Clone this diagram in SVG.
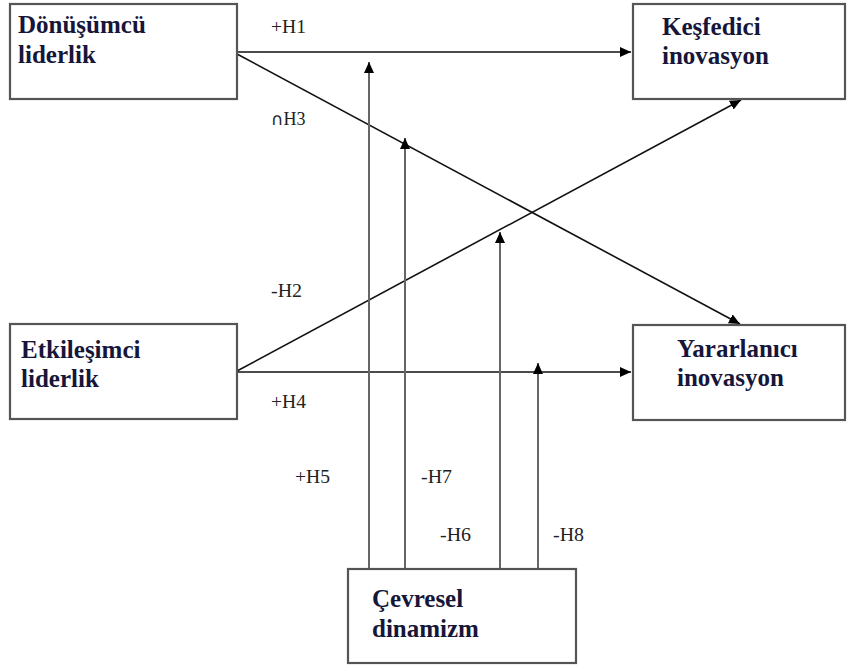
<svg xmlns="http://www.w3.org/2000/svg" width="849" height="668" viewBox="0 0 849 668">
  <style>
    .box { fill: #ffffff; stroke: #555555; stroke-width: 2.2; }
    .title { font-family: 'Liberation Serif', 'DejaVu Serif', serif; font-size: 25px; font-weight: bold; fill: #16163a; }
    .link { fill: none; stroke: #111111; stroke-width: 1.6; marker-end: url(#head); }
    .mod { fill: none; stroke: #666666; stroke-width: 2; marker-end: url(#head); }
    .lbl { font-family: 'Liberation Serif', 'DejaVu Serif', serif; font-size: 18px; fill: #222222; }
    .cap { font-family: 'DejaVu Sans', sans-serif; font-size: 17px; }
  </style>
  <defs>
    <marker id="head" markerUnits="userSpaceOnUse" markerWidth="12" markerHeight="11" refX="11" refY="5" orient="auto">
      <path d="M0,0 L11,5 L0,10 z" fill="#000000"/>
    </marker>
  </defs>

  <rect width="849" height="668" fill="#ffffff"/>

  <!-- connectors -->
  <g id="connectors">
    <line class="link" x1="237" y1="52" x2="631" y2="52"/>
    <line class="link" x1="237" y1="54" x2="740" y2="324"/>
    <line class="link" x1="237" y1="371" x2="741" y2="100"/>
    <line class="link" x1="237" y1="372" x2="631" y2="372"/>
    <line class="mod" x1="369" y1="569" x2="369" y2="62"/>
    <line class="mod" x1="405" y1="569" x2="405" y2="138"/>
    <line class="mod" x1="500" y1="569" x2="500" y2="232"/>
    <line class="mod" x1="538" y1="569" x2="538" y2="363"/>
  </g>

  <!-- hypothesis labels -->
  <g id="labels">
    <text class="lbl" x="271" y="33" textLength="35" lengthAdjust="spacingAndGlyphs">+H1</text>
    <text class="lbl" x="271" y="125"><tspan class="cap">∩</tspan>H3</text>
    <text class="lbl" x="271" y="297" textLength="31" lengthAdjust="spacingAndGlyphs">-H2</text>
    <text class="lbl" x="271" y="408" textLength="35" lengthAdjust="spacingAndGlyphs">+H4</text>
    <text class="lbl" x="295" y="483" textLength="35" lengthAdjust="spacingAndGlyphs">+H5</text>
    <text class="lbl" x="421" y="483" textLength="31" lengthAdjust="spacingAndGlyphs">-H7</text>
    <text class="lbl" x="440" y="541" textLength="31" lengthAdjust="spacingAndGlyphs">-H6</text>
    <text class="lbl" x="553" y="541" textLength="31" lengthAdjust="spacingAndGlyphs">-H8</text>
  </g>

  <g id="donusumcu-liderlik">
    <rect class="box" x="10" y="4" width="227" height="95"/>
    <text class="title" x="18" y="33">Dönüşümcü</text>
    <text class="title" x="18" y="63">liderlik</text>
  </g>

  <g id="kesfedici-inovasyon">
    <rect class="box" x="633" y="4" width="212" height="95"/>
    <text class="title" x="662" y="35">Keşfedici</text>
    <text class="title" x="662" y="64">inovasyon</text>
  </g>

  <g id="etkilesimci-liderlik">
    <rect class="box" x="10" y="324" width="227" height="95"/>
    <text class="title" x="21" y="358">Etkileşimci</text>
    <text class="title" x="21" y="387">liderlik</text>
  </g>

  <g id="yararlanici-inovasyon">
    <rect class="box" x="633" y="325" width="212" height="95"/>
    <text class="title" x="677" y="357">Yararlanıcı</text>
    <text class="title" x="677" y="386">inovasyon</text>
  </g>

  <g id="cevresel-dinamizm">
    <rect class="box" x="348" y="569" width="228" height="94"/>
    <text class="title" x="372" y="607">Çevresel</text>
    <text class="title" x="372" y="637">dinamizm</text>
  </g>
</svg>
